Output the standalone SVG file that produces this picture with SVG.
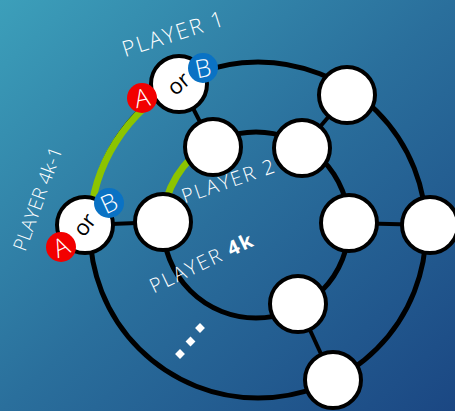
<svg xmlns="http://www.w3.org/2000/svg" width="455" height="411" viewBox="0 0 455 411">
<defs>
<linearGradient id="bg" x1="0" y1="0" x2="1" y2="1">
<stop offset="0" stop-color="#3c9fba"/>
<stop offset="0.5" stop-color="#2a6f9c"/>
<stop offset="1" stop-color="#1b4783"/>
</linearGradient>
<style>
.ring{fill:none;stroke:#000;stroke-width:5}
.green{fill:none;stroke:#8cc400;stroke-width:7}
.spoke{stroke:#000;stroke-width:4}
.node{fill:#fff;stroke:#000;stroke-width:4}
.lbl{fill:#fff;font-family:"Open Sans","Liberation Sans",sans-serif;font-weight:300;text-anchor:middle}
.or{fill:#000;font-family:"Open Sans","Liberation Sans",sans-serif;font-size:22px}
.badge{fill:#fff;font-family:"Open Sans","Liberation Sans",sans-serif;font-weight:300;font-size:25px;text-anchor:middle}
.a{fill:#f20000}
.b{fill:#0a72c4}
</style>
</defs>
<rect width="455" height="411" fill="url(#bg)"/>
<g id="connectors">
<circle class="ring" cx="258" cy="230" r="168"/>
<circle class="ring" cx="256" cy="225" r="93"/>
<path class="green" d="M180,83 A168 168 0 0 0 90,225"/>
<path class="green" d="M211,143.5 A93 93 0 0 0 163,222"/>
<line class="spoke" x1="180" y1="83" x2="213" y2="147"/>
<line class="spoke" x1="347" y1="95" x2="302" y2="148"/>
<line class="spoke" x1="349" y1="223" x2="430" y2="225"/>
<line class="spoke" x1="298" y1="304" x2="333" y2="380"/>
<line class="spoke" x1="85" y1="225" x2="163" y2="222"/>
</g>
<g id="n_p1">
<circle class="node" cx="179" cy="84" r="28"/>
<text class="or" x="179" y="91" text-anchor="middle" transform="rotate(-40 179 84)">or</text>
<circle class="a" cx="142" cy="98" r="15"/>
<text class="badge" x="142" y="107" transform="rotate(-12 142 98)">A</text>
<circle class="b" cx="203" cy="68" r="15"/>
<text class="badge" x="203" y="77" transform="rotate(-12 203 68)">B</text>
</g>
<g id="n_p4k1">
<circle class="node" cx="85" cy="225" r="28"/>
<text class="or" x="85" y="232" text-anchor="middle" transform="rotate(-52 85 225)">or</text>
<circle class="a" cx="61" cy="247" r="15"/>
<text class="badge" x="61" y="256" transform="rotate(-25 61 247)">A</text>
<circle class="b" cx="109" cy="203" r="15"/>
<text class="badge" x="109" y="212" transform="rotate(-25 109 203)">B</text>
</g>
<g id="n_p2"><circle class="node" cx="213" cy="147" r="28"/></g>
<g id="n_in_left"><circle class="node" cx="163" cy="222" r="28"/></g>
<g id="n_out_tr"><circle class="node" cx="347" cy="95" r="28"/></g>
<g id="n_in_tr"><circle class="node" cx="302" cy="148" r="28"/></g>
<g id="n_in_r"><circle class="node" cx="349" cy="223" r="28"/></g>
<g id="n_out_r"><circle class="node" cx="430" cy="225" r="28"/></g>
<g id="n_in_b"><circle class="node" cx="298" cy="304" r="28"/></g>
<g id="n_out_b"><circle class="node" cx="333" cy="380" r="28"/></g>
<g id="labels">
<text class="lbl" x="176" y="41" font-size="22" letter-spacing="1.8" transform="rotate(-17.6 176 41)">PLAYER 1</text>
<text class="lbl" x="44" y="201" font-size="19" letter-spacing="0.3" transform="rotate(-70 44 201)">PLAYER 4k-1</text>
<text class="lbl" x="231" y="187.5" font-size="20" letter-spacing="1.8" transform="rotate(-19 231 187.5)">PLAYER 2</text>
<text class="lbl" x="205" y="269" font-size="20" letter-spacing="1.9" transform="rotate(-25.6 205 269)">PLAYER <tspan font-weight="700">4k</tspan></text>
<g fill="#fff">
<rect x="196.5" y="324.5" width="7" height="7" transform="rotate(45 200 328)"/>
<rect x="187" y="338" width="7" height="7" transform="rotate(45 190.5 341.5)"/>
<rect x="176.5" y="350.5" width="7" height="7" transform="rotate(45 180 354)"/>
</g>
</g>
</svg>
